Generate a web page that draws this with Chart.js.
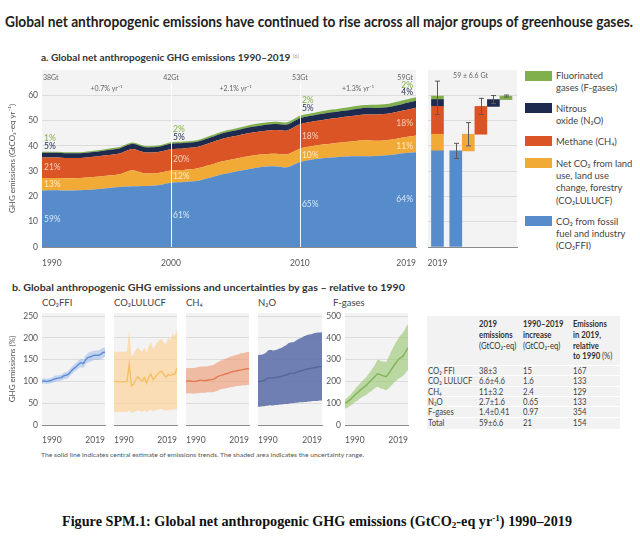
<!DOCTYPE html>
<html><head><meta charset="utf-8">
<script src="https://cdn.jsdelivr.net/npm/chart.js@4.4.1/dist/chart.umd.min.js"></script>
<style>
html,body{margin:0;padding:0;background:#fff;width:640px;height:540px;overflow:hidden;font-family:Lato,'Open Sans',sans-serif;color:#333;}
.abs{position:absolute;white-space:nowrap;line-height:1;}
canvas{position:absolute;}
.leg{position:absolute;font-size:10px;line-height:12.3px;color:#444;white-space:nowrap;transform:scaleX(0.94);transform-origin:left top;}
.sw{position:absolute;width:27px;height:10px;}
.tc{position:absolute;font-size:9px;line-height:1;color:#444;white-space:nowrap;transform:scaleX(0.86);transform-origin:left top;}
.th{position:absolute;font-size:9px;line-height:10.8px;color:#333;font-weight:bold;white-space:nowrap;transform:scaleX(0.86);transform-origin:left top;}
</style></head><body>

<div class="abs" id="title" style="left:5px;top:14px;font-weight:bold;font-size:15px;color:#222;">Global net anthropogenic emissions have continued to rise across all major groups of greenhouse gases.</div>
<div class="abs" id="subA" style="left:41px;top:52px;font-weight:bold;font-size:10px;color:#333;">a. Global net anthropogenic GHG emissions 1990–2019 <span style="font-size:5.5px;vertical-align:3px;color:#999;font-weight:normal">(6)</span></div>

<canvas id="main" width="420" height="215" style="left:0;top:60px;width:420px;height:215px"></canvas>
<canvas id="bars" width="105" height="215" style="left:420px;top:60px;width:105px;height:215px"></canvas>

<div id="legend"></div>

<div class="abs" id="subB" style="left:12px;top:282px;font-weight:bold;font-size:10px;color:#333;">b. Global anthropogenic GHG emissions and uncertainties by gas – relative to 1990</div>
<div id="ptitles"></div>

<canvas id="p0" width="108" height="145" style="left:0;top:300px;width:108px;height:145px"></canvas>
<canvas id="p1" width="70" height="145" style="left:110px;top:300px;width:70px;height:145px"></canvas>
<canvas id="p2" width="70" height="145" style="left:182px;top:300px;width:70px;height:145px"></canvas>
<canvas id="p3" width="71" height="145" style="left:254px;top:300px;width:71px;height:145px"></canvas>
<canvas id="p4" width="111" height="145" style="left:300px;top:300px;width:111px;height:145px"></canvas>

<div id="table"></div>

<div class="abs" id="foot" style="left:41px;top:452px;font-size:6.5px;color:#555;">The solid line indicates central estimate of emissions trends. The shaded area indicates the uncertainty range.</div>
<div class="abs" id="cap" style="left:62px;top:514px;font-family:'Liberation Serif','Times New Roman',serif;font-weight:bold;font-size:14px;color:#111;">Figure SPM.1: Global net anthropogenic GHG emissions (GtCO<span style="font-size:9px;vertical-align:-2px">2</span>-eq yr<span style="font-size:9px;vertical-align:5px">-1</span>) 1990–2019</div>

<script>
// ---------------- DATA ----------------
const years = [1990,1991,1992,1993,1994,1995,1996,1997,1998,1999,2000,2001,2002,2003,2004,2005,2006,2007,2008,2009,2010,2011,2012,2013,2014,2015,2016,2017,2018,2019];
// Panel a: GtCO2-eq per year
const co2ffi = [22.3,22.4,22.3,22.4,22.7,23.2,23.7,24.0,24.1,24.4,25.4,25.7,26.1,27.4,28.8,29.8,30.7,31.6,31.9,31.5,33.6,34.6,35.2,35.6,35.9,35.9,36.0,36.4,37.1,37.5];
const co2lulucf = [5.0,4.9,4.9,4.9,5.0,5.0,5.1,6.4,5.0,4.9,4.9,4.8,4.9,5.0,5.1,5.1,5.2,5.0,5.0,5.2,5.3,5.3,5.4,5.6,5.8,6.3,6.0,6.0,6.2,6.6];
const ch4 = [8.1,8.1,8.0,7.9,8.0,8.1,8.2,8.4,8.3,8.3,8.4,8.5,8.5,8.7,8.9,9.0,9.1,9.2,9.4,9.4,9.6,9.7,9.8,9.9,10.1,10.2,10.4,10.5,10.7,11.0];
const n2o = [1.9,1.9,1.9,1.9,1.9,2.0,2.0,2.0,2.0,2.0,2.1,2.1,2.1,2.1,2.2,2.2,2.3,2.3,2.3,2.3,2.4,2.4,2.5,2.5,2.5,2.6,2.6,2.6,2.6,2.7];
const fgases = [0.4,0.4,0.4,0.4,0.5,0.5,0.5,0.5,0.5,0.5,0.6,0.6,0.6,0.7,0.7,0.8,0.8,0.9,0.9,0.9,1.0,1.0,1.1,1.1,1.2,1.2,1.3,1.3,1.4,1.4];

const labelYears = [1990,2000,2010,2019];
const totalLabels = ['38Gt','42Gt','53Gt','59Gt'];
const growthLabels = ['+0.7% yr⁻¹','+2.1% yr⁻¹','+1.3% yr⁻¹'];
const pctFFI = ['59%','61%','65%','64%'];
const pctLULUCF = ['13%','12%','10%','11%'];
const pctCH4 = ['21%','20%','18%','18%'];
const pctN2O = ['5%','5%','5%','4%'];
const pctF = ['1%','2%','2%','2%'];

// 2019 emissions by gas and uncertainties
const gasLabels = ['CO₂ FFI','CO₂ LULUCF','CH₄','N₂O','F-gases'];
const emis2019 = [38,6.6,11,2.7,1.4];
const unc2019 = [3,4.6,3.2,1.6,0.41];
const total2019 = 59;
const totalUnc = 6.6;
const increase = [15,1.6,2.4,0.65,0.97];
const totalIncrease = 21;
const relative1990 = [167,133,129,133,354];
const totalRelative = 154;

// Panel b: % relative to 1990 (central, lower, upper)
const ffiRel = [100,101,100,101,102,104,106,107,108,109,113,114,116,121,127,131,135,140,143,141,149,154,156,158,160,160,160,162,166,167];
const ffiLow = [94,95,94,95,96,97,99,100,101,102,105,106,108,113,118,122,126,130,133,131,139,143,145,147,149,149,149,151,154,156];
const ffiHigh = [106,107,106,107,108,110,113,114,115,116,120,121,124,129,135,140,144,149,152,150,159,164,167,169,171,171,171,173,177,178];
const lulRel = [100,100,99,99,99,99,100,139,90,93,104,111,105,101,109,96,110,117,104,110,116,121,124,114,110,116,113,117,116,131];
const lulLow = [30,30,30,30,30,30,30,34,28,29,31,33,32,30,34,29,33,35,31,33,35,36,37,34,33,35,34,36,35,38];
const lulHigh = [168,168,168,168,168,168,169,218,158,163,172,178,172,168,178,165,182,190,175,182,190,195,198,188,186,200,195,210,204,218];
const ch4Rel = [100,101,101,100,100,101,102,103,102,102,103,104,104,106,109,112,114,115,117,118,120,122,123,124,125,126,127,128,129,129];
const ch4Low = [72,73,73,72,72,73,73,74,74,74,75,75,75,76,78,80,82,83,84,85,86,87,88,89,90,90,91,91,92,92];
const ch4High = [130,131,131,131,131,132,133,134,134,134,135,136,137,139,142,145,148,150,152,154,156,158,159,161,162,164,165,166,167,168];
const n2oRel = [100,100,101,103,106,108,108,108,109,110,111,112,114,115,117,119,118,120,122,124,125,127,128,129,130,131,132,133,134,134];
const n2oLow = [42,42,43,43,44,45,45,45,46,46,47,47,48,48,49,50,50,51,51,52,52,53,53,54,54,55,55,55,56,56];
const n2oHigh = [160,161,162,164,168,172,172,171,172,174,176,178,181,184,188,190,190,193,196,199,201,204,206,207,208,210,211,212,212,213];
const fRel = [100,105,113,122,132,142,150,160,168,176,184,195,205,215,225,235,232,228,225,222,235,250,265,280,292,305,310,320,338,354];
const fLow = [75,79,85,92,100,108,114,122,128,134,140,148,155,163,170,175,170,166,163,160,168,178,188,198,207,215,220,228,240,252];
const fHigh = [118,124,134,145,157,170,180,192,202,212,222,236,250,264,280,300,296,292,290,290,310,332,352,372,388,405,415,430,448,462];

const panelNames = ['CO₂FFI','CO₂LULUCF','CH₄','N₂O','F-gases'];
const legendLabels = ['Fluorinated\ngases (F-gases)','Nitrous\noxide (N₂O)','Methane (CH₄)','Net CO₂ from land\nuse, land use\nchange, forestry\n(CO₂LULUCF)','CO₂ from fossil\nfuel and industry\n(CO₂FFI)'];

// ---------------- STYLE ----------------
const C = {ffi:'#578cca', lul:'#f2aa37', ch4:'#da5426', n2o:'#1e2a4e', f:'#80b04b'};
const BG = '#f3f3f3', GRID = '#dcdcdc', AX = '#8a8a8a', TXT = '#555';
Chart.defaults.font.family = 'Lato, "Open Sans", sans-serif';
Chart.defaults.color = TXT;
Chart.defaults.animation = false;

const bgPlugin = {id:'bg', beforeDraw(c){const a=c.chartArea,x=c.ctx;x.save();x.fillStyle=BG;x.fillRect(a.left,a.top,a.right-a.left,a.bottom-a.top);x.restore();}};
const pts = arr => arr.map((v,i)=>({x:years[i], y:v}));

// ---------------- MAIN STACKED AREA ----------------
const series = [co2ffi,co2lulucf,ch4,n2o,fgases];
const colors = [C.ffi,C.lul,C.ch4,C.n2o,C.f];
const labelsPlugin = {id:'mainLabels', afterDatasetsDraw(c){
  const {ctx, chartArea:a, scales:{x,y}} = c;
  ctx.save();
  ctx.strokeStyle='rgba(255,255,255,0.95)'; ctx.lineWidth=1;
  [2000,2010].forEach(yr=>{const px=Math.round(x.getPixelForValue(yr))+0.5;ctx.beginPath();ctx.moveTo(px,a.top+13);ctx.lineTo(px,a.bottom);ctx.stroke();});
  const pctSets=[pctFFI,pctLULUCF,pctCH4];
  const pctCols=['#d8e6f6','#feeac6','#f9d0bd'];
  const n2oOff=[5.5,5.5,7.5,5.5], fOff=[13.5,13.5,16,12.5];
  ctx.textBaseline='middle';
  labelYears.forEach((yr,k)=>{
    const i=years.indexOf(yr); const px=x.getPixelForValue(yr);
    const last = k===labelYears.length-1;
    ctx.textAlign = last?'right':'left';
    const tx = last? px-3 : px+2;
    ctx.font='8.5px Lato, sans-serif';
    let cum=0;
    for(let s=0;s<3;s++){const mid=cum+series[s][i]/2; ctx.fillStyle=pctCols[s]; ctx.fillText(pctSets[s][k],tx,y.getPixelForValue(mid)+(last&&s>0?2:0)); cum+=series[s][i];}
    cum+=series[3][i]+series[4][i];
    const top=y.getPixelForValue(cum);
    ctx.fillStyle=C.n2o; ctx.fillText(pctN2O[k],tx,top-n2oOff[k]);
    ctx.fillStyle=C.f; ctx.fillText(pctF[k],tx,top-fOff[k]);
    ctx.font='7px Lato, sans-serif'; ctx.fillStyle='#666';
    ctx.textAlign = k===0?'left':(last?'right':'center');
    ctx.fillText(totalLabels[k], k===0?px+1:(last?px-3:px), a.top+8);
  });
  ctx.textAlign='center';
  growthLabels.forEach((g,k)=>{const mid=(labelYears[k]+labelYears[k+1])/2; ctx.fillText(g,x.getPixelForValue(mid),a.top+18.5);});
  ctx.restore();
}};

new Chart(document.getElementById('main'),{
  type:'line',
  data:{datasets: series.map((s,k)=>({data:pts(s), backgroundColor:colors[k], borderColor:colors[k], borderWidth:0, pointRadius:0, fill:k===0?'origin':'-1', tension:0.25}))},
  options:{responsive:false, animation:false, events:[],
    layout:{padding:{top:10,right:4,left:0,bottom:0}},
    plugins:{legend:{display:false},tooltip:{enabled:false}},
    scales:{
      x:{type:'linear',min:1990,max:2019,offset:false,grid:{display:false},border:{color:AX},
         afterBuildTicks:s=>{s.ticks=labelYears.map(v=>({value:v}));},
         afterFit:s=>{s.height=28;},
         ticks:{callback:v=>String(v),font:{size:8.5},color:TXT,padding:3,maxRotation:0,align:'inner'}},
      y:{stacked:true,min:0,max:70,grid:{color:GRID,drawTicks:false},border:{display:false},
         afterBuildTicks:s=>{s.ticks=[0,10,20,30,40,50,60].map(v=>({value:v}));},
         afterFit:s=>{s.width=42;},
         title:{display:true,text:'GHG emissions (GtCO₂-eq yr⁻¹)',font:{size:8},color:TXT,padding:{top:8,bottom:0}},
         ticks:{font:{size:8.5},color:TXT,padding:4}}
    }},
  plugins:[bgPlugin,labelsPlugin]
});

// ---------------- 2019 BAR PANEL ----------------
const TOTX=-1.46;
const cumLow=[], cumHigh=[]; let acc=0;
emis2019.forEach(v=>{cumLow.push(acc); acc+=v; cumHigh.push(acc);});
const barDatasets = emis2019.map((v,k)=>({
  data:[{x:TOTX,y:[cumLow[k],cumHigh[k]]},{x:k,y:[cumLow[k],cumHigh[k]]}],
  backgroundColor:colors[k], borderWidth:0, barThickness:12, grouped:false
}));
const errPlugin = {id:'err', afterDatasetsDraw(c){
  const {ctx, chartArea:a, scales:{x,y}} = c;
  ctx.save(); ctx.strokeStyle='#5a5a5a'; ctx.lineWidth=1;
  const bar=(xv,cv,u)=>{const px=Math.round(x.getPixelForValue(xv))+0.5; const y1=y.getPixelForValue(cv-u), y2=y.getPixelForValue(cv+u);
    ctx.beginPath(); ctx.moveTo(px,y1); ctx.lineTo(px,y2); ctx.moveTo(px-2.5,y1); ctx.lineTo(px+2.5,y1); ctx.moveTo(px-2.5,y2); ctx.lineTo(px+2.5,y2); ctx.stroke();};
  emis2019.forEach((v,k)=>bar(k,cumHigh[k],unc2019[k]));
  bar(TOTX,total2019,totalUnc);
  ctx.fillStyle='#666'; ctx.font='7px Lato, sans-serif'; ctx.textAlign='center'; ctx.textBaseline='middle';
  ctx.fillText(total2019+' ± '+totalUnc+' Gt',(a.left+a.right)/2-2,a.top+6);
  ctx.restore();
}};
new Chart(document.getElementById('bars'),{
  type:'bar',
  data:{datasets:barDatasets},
  options:{responsive:false, animation:false, events:[],
    layout:{padding:{top:10,right:8,left:0,bottom:0}},
    plugins:{legend:{display:false},tooltip:{enabled:false}},
    scales:{
      x:{type:'linear',min:-2.215,max:4.88,offset:false,grid:{display:false},border:{color:AX},
         afterBuildTicks:s=>{s.ticks=[{value:TOTX}];},
         afterFit:s=>{s.height=28;},
         ticks:{callback:()=> '2019',font:{size:8.5},color:TXT,padding:3,maxRotation:0}},
      y:{min:0,max:70,grid:{color:GRID,drawTicks:false},border:{display:false},
         afterBuildTicks:s=>{s.ticks=[0,10,20,30,40,50,60].map(v=>({value:v}));},
         afterFit:s=>{s.width=8;},
         ticks:{display:false}}
    }},
  plugins:[bgPlugin,errPlugin]
});

// ---------------- LEGEND ----------------
(function(){
  const lg=document.getElementById('legend');
  const swTop=[70.7,103.3,136,158.3,216];
  const order=[C.f,C.n2o,C.ch4,C.lul,C.ffi];
  legendLabels.forEach((t,k)=>{
    const sw=document.createElement('div'); sw.className='sw'; sw.style.left='525px'; sw.style.top=swTop[k]+'px'; sw.style.background=order[k]; lg.appendChild(sw);
    const tx=document.createElement('div'); tx.className='leg'; tx.style.left='556px'; tx.style.top=(swTop[k]-1.5)+'px';
    tx.innerHTML=t.split('\n').join('<br>'); lg.appendChild(tx);
  });
})();

// ---------------- PANEL TITLES ----------------
(function(){
  const pt=document.getElementById('ptitles');
  const lx=[42,114,186,258,333];
  panelNames.forEach((n,k)=>{const d=document.createElement('div'); d.className='abs'; d.style.cssText=`left:${lx[k]}px;top:298px;font-size:9.5px;color:#444;`; d.textContent=n; pt.appendChild(d);});
})();

// ---------------- SMALL PANELS ----------------
function panel(id, low, high, mid, band, line, opt){
  new Chart(document.getElementById(id),{
    type:'line',
    data:{datasets:[
      {data:pts(low),borderWidth:0,pointRadius:0,fill:false,tension:opt.t},
      {data:pts(high),borderWidth:0,pointRadius:0,fill:'-1',backgroundColor:band,tension:opt.t},
      {data:pts(mid),borderColor:line,borderWidth:1.4,pointRadius:0,fill:false,tension:opt.t}
    ]},
    options:{responsive:false, animation:false, events:[],
      layout:{padding:{top:13,right:opt.pr,left:0,bottom:0}},
      plugins:{legend:{display:false},tooltip:{enabled:false}},
      scales:{
        x:{type:'linear',min:1990,max:2019,grid:{display:false},border:{color:AX},
           afterBuildTicks:s=>{s.ticks=[{value:1990},{value:2019}];},
           afterFit:s=>{s.height=20;},
           ticks:{callback:v=>String(v),font:{size:8.5},color:TXT,padding:2,align:'inner',maxRotation:0}},
        y:{min:0,max:opt.max,grid:{color:GRID,drawTicks:false},border:{display:false},
           afterBuildTicks:s=>{s.ticks=opt.ticks.map(v=>({value:v}));},
           afterFit:s=>{s.width=opt.yw;},
           title:{display:!!opt.title,text:opt.title||'',font:{size:8},color:TXT,padding:{top:8,bottom:0}},
           ticks:{display:opt.showY,font:{size:8.5},color:TXT,padding:4}}
      }},
    plugins:[bgPlugin]
  });
}
const t250=[0,50,100,150,200,250], t500=[0,100,200,300,400,500];
panel('p0',ffiLow,ffiHigh,ffiRel,'rgba(120,160,230,0.38)','#4a7fcf',{t:0.2,pr:3,max:257,ticks:t250,yw:42,showY:true,title:'GHG emissions (%)'});
panel('p1',lulLow,lulHigh,lulRel,'rgba(253,206,140,0.62)','#e8a624',{t:0,pr:3,max:257,ticks:t250,yw:4,showY:false});
panel('p2',ch4Low,ch4High,ch4Rel,'rgba(238,150,110,0.6)','#d24f28',{t:0.2,pr:3,max:257,ticks:t250,yw:4,showY:false});
panel('p3',n2oLow,n2oHigh,n2oRel,'rgba(92,110,170,0.88)','#1b2858',{t:0.2,pr:3,max:257,ticks:t250,yw:4,showY:false});
panel('p4',fLow,fHigh,fRel,'rgba(150,196,108,0.6)','#5e9a34',{t:0.1,pr:3,max:514,ticks:t500,yw:45,showY:true});

// ---------------- TABLE ----------------
(function(){
  const tb=document.getElementById('table');
  const add=(cls,css,html)=>{const d=document.createElement('div'); d.className=cls; d.style.cssText=css; d.innerHTML=html; tb.appendChild(d); return d;};
  add('abs','left:427px;top:316px;width:193px;height:113px;background:#f2f2f2;','');
  const colX=[428,479,523,573];
  add('th',`left:${colX[1]}px;top:319px;`,'2019<br>emissions<br><span style="font-weight:normal">(GtCO₂-eq)</span>');
  add('th',`left:${colX[2]}px;top:319px;`,'1990–2019<br>increase<br><span style="font-weight:normal">(GtCO₂-eq)</span>');
  add('th',`left:${colX[3]}px;top:319px;`,'Emissions<br>in 2019,<br>relative<br>to 1990 <span style="font-weight:normal">(%)</span>');
  const rows = gasLabels.map((g,k)=>[g, emis2019[k]+'±'+unc2019[k], String(increase[k]), String(relative1990[k])]);
  rows.push(['Total', total2019+'±'+totalUnc, String(totalIncrease), String(totalRelative)]);
  rows.forEach((r,k)=>{
    const cy=370.7+k*10.3;
    add('abs',`left:427px;top:${(cy-5.6).toFixed(1)}px;width:193px;height:1px;background:#ffffff;`,'');
    r.forEach((t,j)=>add('tc',`left:${colX[j]}px;top:${(cy-4.7).toFixed(1)}px;`,t));
  });
})();

// ---------------- FIT TEXT WIDTHS ----------------
function fit(id,w){const el=document.getElementById(id); const sw=el.getBoundingClientRect().width; el.style.transformOrigin='left center'; el.style.transform=`scaleX(${(w/sw).toFixed(4)})`;}
fit('title',628); fit('subA',258); fit('subB',393); fit('foot',323); fit('cap',510);
</script>
</body></html>
